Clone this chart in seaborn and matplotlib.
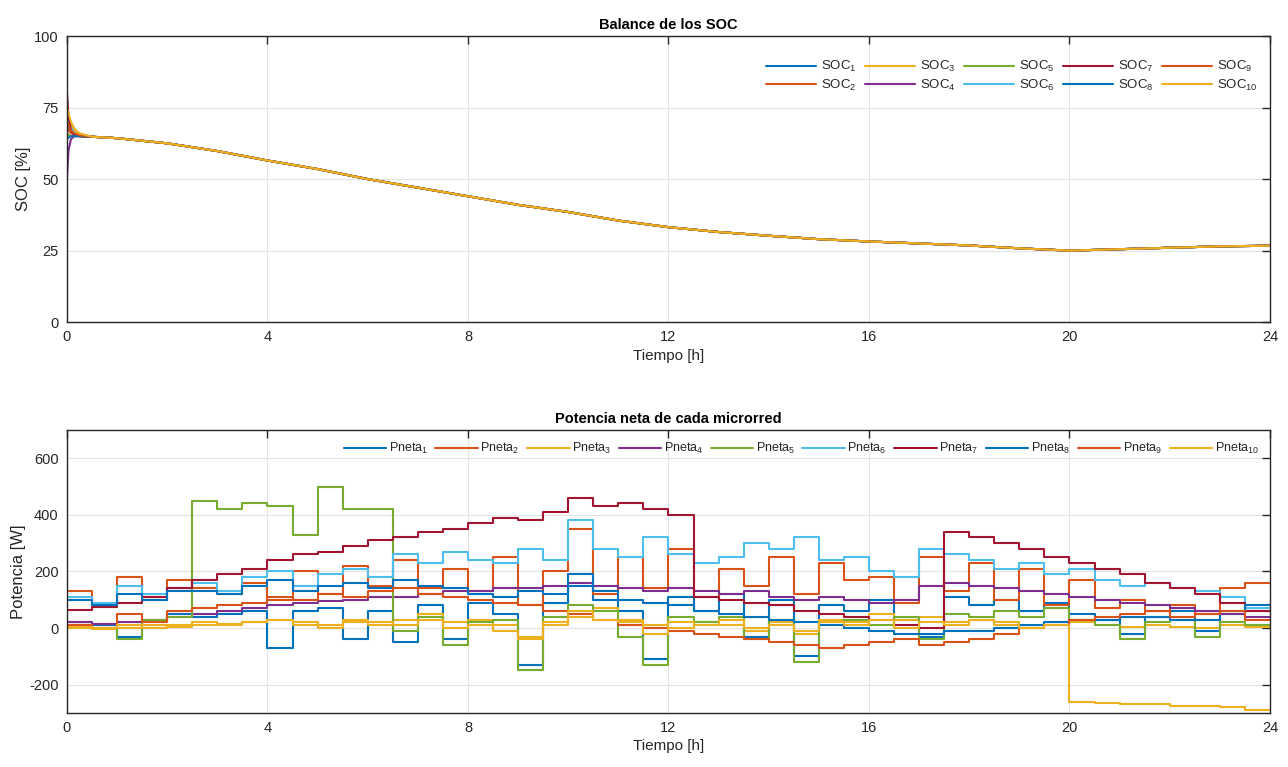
import matplotlib.pyplot as plt
import seaborn as sns
import pandas as pd

##### data

# SOC: short start transient per battery, then the shared discharge curve
soc_t_start = [0, 0.03, 0.08, 0.15, 0.25]
soc_start = {
    1: [70, 68, 66.5, 65.5, 65],
    2: [68, 67, 66, 65.5, 65],
    3: [75, 72, 69, 67, 65.5],
    4: [50, 60, 64, 65, 65],
    5: [66, 65.5, 65, 65, 65],
    6: [72, 70, 68, 66, 65.2],
    7: [80, 72, 67, 65.5, 65],
    8: [64, 64.5, 65, 65, 65],
    9: [70, 69, 67, 66, 65.3],
    10: [75, 73, 70, 67.5, 66],
}
soc_t_common = [0.5, 1, 2, 3, 4, 5, 6, 7, 8, 9, 10, 11, 12, 13, 14, 15, 16, 17, 18, 19, 20, 21, 22, 23, 24]
soc_common = [64.8, 64.3, 62.5, 59.8, 56.5, 53.5, 50, 47, 44, 41, 38.5, 35.5, 33.2, 31.5, 30.2,
              29, 28.2, 27.5, 26.8, 25.8, 25, 25.5, 26, 26.5, 26.7]

# net power per microgrid, half-hour steps (t = 0, 0.5, ..., 23.5)
t_p = [0, 0.5, 1, 1.5, 2, 2.5, 3, 3.5, 4, 4.5, 5, 5.5, 6, 6.5, 7, 7.5, 8, 8.5, 9, 9.5, 10, 10.5, 11, 11.5,
       12, 12.5, 13, 13.5, 14, 14.5, 15, 15.5, 16, 16.5, 17, 17.5, 18, 18.5, 19, 19.5, 20, 20.5, 21, 21.5,
       22, 22.5, 23, 23.5, 24]
pneta = {
    1: [20, 10, -30, 30, 50, 40, 50, 60, -70, 60, 70, -40, 60, -50, 80, -40, 90, 50, -130, 90, 150, 100, 60, -110,
        110, 60, 120, -30, 100, -100, 80, 60, 100, 30, -30, 110, 80, 100, 60, 90, 50, 30, -20, 40, 60, -10, 50, 60],
    2: [130, 80, 180, 100, 170, 140, 120, 160, 100, 200, 120, 220, 150, 240, 140, 210, 130, 250, 80, 200, 350, 120, 250, 140,
        280, 110, 210, 150, 250, 120, 230, 170, 180, 90, 250, 130, 230, 100, 210, 80, 170, 70, 100, 60, 80, 50, 140, 160],
    3: [0, -5, 0, 10, 5, 10, 15, 20, 30, 10, 0, 20, 10, 30, 50, 20, 30, 10, -30, 10, 40, 70, 30, 10,
        0, 20, 10, -10, 20, -20, 30, 20, 50, 30, 40, 20, 30, 10, 0, 10, 20, 10, 5, 10, 5, 0, 10, 5],
    4: [20, 15, 20, 30, 40, 50, 60, 70, 80, 90, 95, 100, 110, 110, 120, 130, 130, 140, 140, 150, 160, 150, 140, 130,
        140, 130, 120, 130, 110, 100, 110, 100, 90, 100, 150, 160, 150, 140, 130, 120, 110, 100, 90, 80, 70, 60, 50, 40],
    5: [10, 0, -40, 30, 40, 450, 420, 440, 430, 330, 500, 420, 420, -10, 40, -60, 20, 30, -150, 40, 80, 60, -30, -130,
        40, 20, 40, -40, 30, -120, 20, 30, 10, 40, -40, 50, 40, 60, 40, 70, 30, 10, -40, 20, 30, -30, 20, 10],
    6: [110, 90, 150, 120, 140, 160, 130, 180, 200, 150, 190, 210, 180, 260, 230, 270, 240, 230, 280, 240, 380, 280, 250, 320,
        260, 230, 250, 300, 280, 320, 240, 250, 200, 180, 280, 260, 240, 210, 230, 190, 210, 170, 150, 160, 140, 130, 110, 70],
    7: [65, 75, 90, 110, 140, 170, 190, 210, 240, 260, 270, 290, 310, 320, 340, 350, 370, 390, 380, 410, 460, 430, 440, 420,
        400, 110, 100, 90, 80, 60, 50, 40, 30, 10, 0, 340, 320, 300, 280, 250, 230, 210, 190, 160, 140, 120, 90, 60],
    8: [100, 80, 120, 100, 130, 130, 120, 150, 170, 130, 150, 160, 140, 170, 150, 140, 120, 110, 130, 120, 190, 130, 100, 90,
        80, 60, 50, 40, 30, 20, 10, 0, -10, -20, -20, -10, -10, 0, 10, 20, 30, 30, 40, 40, 30, 30, 60, 80],
    9: [10, 0, 50, 20, 60, 70, 80, 90, 110, 100, 120, 110, 130, 140, 120, 110, 100, 90, 80, 60, 50, 30, 10, 0,
        -10, -20, -30, -40, -50, -60, -70, -60, -50, -40, -60, -50, -40, -20, 0, 10, 30, 40, 50, 60, 40, 50, 60, 30],
    10: [5, 0, 10, 0, 10, 20, 10, 20, 30, 20, 10, 30, 20, 10, 30, 0, 10, -10, -40, 20, 60, 30, 20, -20,
         20, 10, 30, 0, 10, -10, 20, 10, 30, 0, 20, 10, 30, 20, 0, 10, -260, -265, -270, -270, -275, -275, -280, -290],
}

matlab_colors = ['#0072BD', '#D95319', '#EDB120', '#7E2F8E', '#77AC30', '#4DBEEE', '#A2142F',
                 '#0072BD', '#D95319', '#EDB120']

##### long tables for seaborn
soc_rows = []
for k in range(1, 11):
    for t, v in zip(soc_t_start + soc_t_common, soc_start[k] + soc_common):
        soc_rows.append({'t': t, 'v': v, 's': 'SOC$_{%d}$' % k})
soc_df = pd.DataFrame(soc_rows)

p_rows = []
for k in range(1, 11):
    vals = pneta[k] + [pneta[k][-1]]
    for t, v in zip(t_p, vals):
        p_rows.append({'t': t, 'v': v, 's': 'Pneta$_{%d}$' % k})
p_df = pd.DataFrame(p_rows)

sns.set_style('white')
plt.rcParams['font.family'] = ['Liberation Sans', 'DejaVu Sans']
plt.rcParams['mathtext.fontset'] = 'custom'
plt.rcParams['mathtext.rm'] = 'Liberation Sans'
plt.rcParams['mathtext.it'] = 'Liberation Sans'
plt.rcParams['axes.unicode_minus'] = False

fig = plt.figure(figsize=(12.88, 7.67), dpi=100)
ax1 = fig.add_axes([0.052, 0.580, 0.934, 0.373])
ax2 = fig.add_axes([0.052, 0.0705, 0.934, 0.369])

sns.lineplot(data=soc_df, x='t', y='v', hue='s', palette=matlab_colors, estimator=None,
             sort=True, linewidth=1.5, ax=ax1)
sns.lineplot(data=p_df, x='t', y='v', hue='s', palette=matlab_colors, estimator=None,
             sort=True, linewidth=1.5, drawstyle='steps-post', ax=ax2)


def matlab_axes(ax, yticks, ylim, title, ylabel):
    ax.set_xlim(0, 24)
    ax.set_ylim(*ylim)
    ax.set_xticks([0, 4, 8, 12, 16, 20, 24])
    ax.set_yticks(yticks)
    ax.grid(True, color='#e3e3e3', linewidth=0.8)
    ax.set_axisbelow(True)
    ax.tick_params(direction='in', length=6, width=1, colors='#262626', labelsize=10.5,
                   top=True, right=True, labelcolor='#262626', pad=6)
    for sp in ax.spines.values():
        sp.set_color('#262626')
        sp.set_linewidth(1)
    ax.set_title(title, fontsize=10.5, fontweight='bold', color='#000000', pad=5)
    ax.set_xlabel('Tiempo [h]', fontsize=11, color='#262626', labelpad=3)
    ax.set_ylabel(ylabel, fontsize=12, color='#262626', labelpad=2)


matlab_axes(ax1, [0, 25, 50, 75, 100], (0, 100), 'Balance de los SOC', 'SOC [%]')
matlab_axes(ax2, [-200, 0, 200, 400, 600], (-300, 700), 'Potencia neta de cada microrred', 'Potencia [W]')

h1, l1 = ax1.get_legend_handles_labels()
ax1.legend(h1, l1, ncol=5, loc='upper right', frameon=False, fontsize=9.5,
           handlelength=3.8, columnspacing=0.6, handletextpad=0.4, labelspacing=0.25,
           bbox_to_anchor=(1.0, 0.96))

h2, l2 = ax2.get_legend_handles_labels()
ax2.legend(h2, l2, ncol=10, loc='upper right', frameon=False, fontsize=9,
           handlelength=3.4, columnspacing=0.6, handletextpad=0.2,
           bbox_to_anchor=(1.0, 1.0))

plt.savefig('out.png', dpi=100)
